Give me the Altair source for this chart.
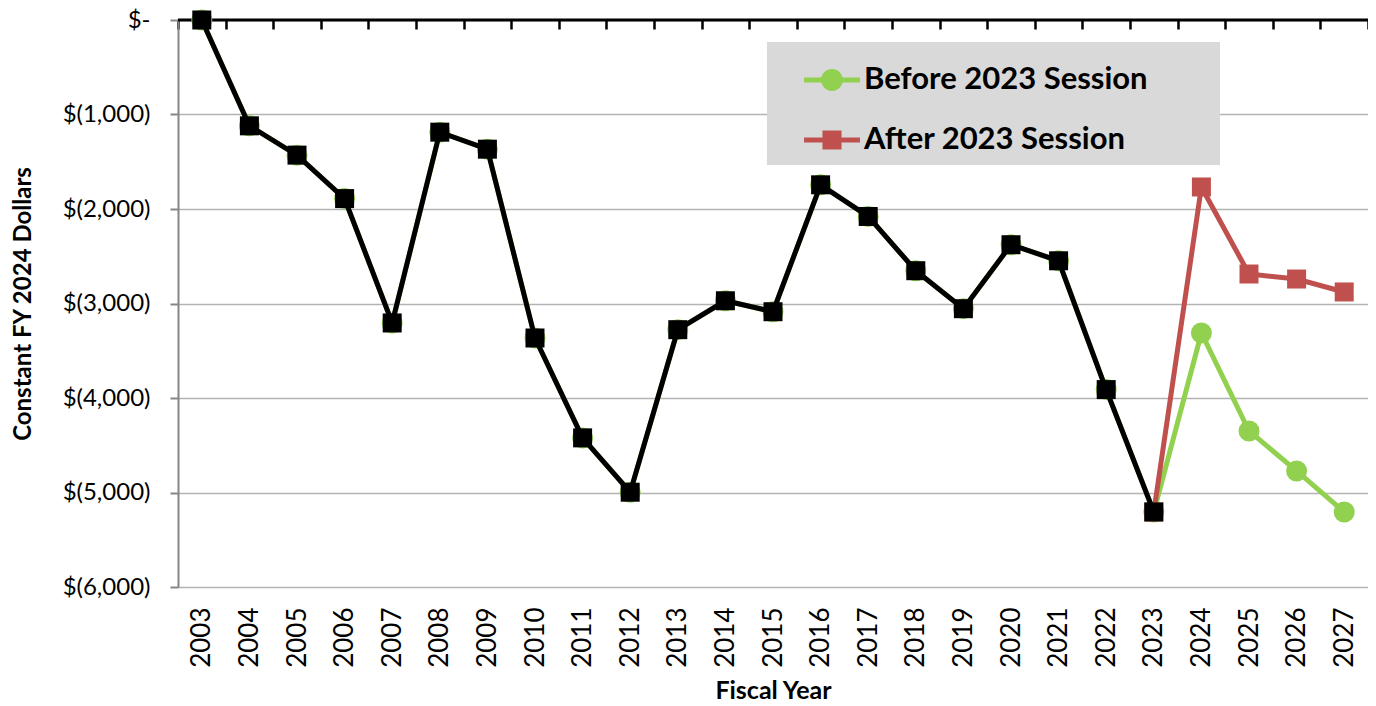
import altair as alt
import pandas as pd

years = list(range(2003, 2028))
hist_years = list(range(2003, 2024))
hist_values = [0, -1120, -1430, -1890, -3206, -1187, -1367, -3365, -4422, -4997,
               -3277, -2971, -3087, -1744, -2079, -2653, -3055, -2378, -2548, -3911, -5206]
before_proj_years = [2024, 2025, 2026, 2027]
before_proj_values = [-3312, -4349, -4772, -5206]
after_years = [2023, 2024, 2025, 2026, 2027]
after_values = [-5206, -1767, -2688, -2741, -2878]
series_names = ["Before 2023 Session", "After 2023 Session"]
series_colors = ["#92d050", "#c0504d"]
y_ticks = [0, -1000, -2000, -3000, -4000, -5000, -6000]
boundaries = [y - 0.5 for y in range(2003, 2029)]

before_df = pd.DataFrame({"year": hist_years + before_proj_years,
                          "value": hist_values + before_proj_values})
after_df = pd.DataFrame({"year": after_years, "value": after_values})
hist_df = pd.DataFrame({"year": hist_years, "value": hist_values})
legend_df = pd.DataFrame({"series": series_names})
bound_df = pd.DataFrame({"b": boundaries})

FONT = "Lato"
xscale = alt.Scale(domain=[2002.5, 2027.5], nice=False, zero=False)
yscale = alt.Scale(domain=[-6000, 0], nice=False)

label_expr = ("datum.value == 0 ? '$-\u00a0' : '$(' + format(abs(datum.value), ',') + ')'")

yaxis = alt.Axis(values=y_ticks, labelExpr=label_expr, labelFont=FONT, labelFontSize=24,
                 labelColor="#000000", labelPadding=20, tickSize=8, tickColor="#868686",
                 tickWidth=2, domainColor="#868686", domainWidth=2, grid=True,
                 gridColor="#b3b3b3", gridWidth=1.5, title="Constant FY 2024 Dollars",
                 titleFont=FONT, titleFontSize=24, titleFontWeight="bold", titleColor="#000000",
                 titleX=-155, titleY=283.5, titleAngle=270, titleAlign="center",
                 titleBaseline="middle")

xaxis_bottom = alt.Axis(values=years, format="d", labelAngle=270, labelFont=FONT,
                        labelFontSize=26, labelColor="#000000", labelPadding=20,
                        labelOverlap=False, labelFlush=False, ticks=False, domain=False,
                        grid=False, title="Fiscal Year", titleFont=FONT, titleFontSize=25,
                        titleFontWeight="bold", titleColor="#000000", titleY=103,
                        titleBaseline="middle")

xaxis_top = alt.Axis(orient="top", values=boundaries, labels=False, domain=False, grid=False,
                     ticks=True, tickColor="#000000", tickWidth=2.5, tickSize=9, offset=-9,
                     title=None)

zero_rule = alt.Chart(pd.DataFrame({"z": [0]})).mark_rule(color="#000000", strokeWidth=3).encode(
    y=alt.Y("z:Q", scale=yscale, axis=yaxis)
)

top_ticks = alt.Chart(bound_df).mark_point(opacity=0).encode(
    x=alt.X("b:Q", scale=xscale, axis=xaxis_top),
    y=alt.datum(0),
)

before_line = alt.Chart(before_df).mark_line(color=series_colors[0], strokeWidth=5).encode(
    x=alt.X("year:Q", scale=xscale, axis=None),
    y=alt.Y("value:Q", scale=yscale),
)
before_pts = alt.Chart(before_df).mark_point(filled=True, shape="circle", size=441,
                                             color=series_colors[0], opacity=1).encode(
    x=alt.X("year:Q", scale=xscale, axis=None),
    y=alt.Y("value:Q", scale=yscale),
)
after_line = alt.Chart(after_df).mark_line(color=series_colors[1], strokeWidth=5).encode(
    x=alt.X("year:Q", scale=xscale, axis=None),
    y=alt.Y("value:Q", scale=yscale),
)
after_pts = alt.Chart(after_df).mark_point(filled=True, shape="square", size=361,
                                           color=series_colors[1], opacity=1).encode(
    x=alt.X("year:Q", scale=xscale, axis=None),
    y=alt.Y("value:Q", scale=yscale),
)
hist_line = alt.Chart(hist_df).mark_line(color="#000000", strokeWidth=5).encode(
    x=alt.X("year:Q", scale=xscale, axis=xaxis_bottom),
    y=alt.Y("value:Q", scale=yscale),
)
hist_pts = alt.Chart(hist_df).mark_point(filled=True, shape="square", size=361,
                                         color="#000000", opacity=1).encode(
    x=alt.X("year:Q", scale=xscale, axis=None),
    y=alt.Y("value:Q", scale=yscale),
)

circle_path = ("M-1,-0.09H1V0.09H-1Z M-0.39,0A0.39,0.39,0,1,1,0.39,0"
               "A0.39,0.39,0,1,1,-0.39,0Z")
square_path = "M-1,-0.09H1V0.09H-1Z M-0.34,-0.34H0.34V0.34H-0.34Z"

legend_layer = alt.Chart(legend_df).mark_point(filled=True, opacity=0).encode(
    color=alt.Color("series:N",
                    scale=alt.Scale(domain=series_names, range=series_colors),
                    legend=alt.Legend(orient="none", legendX=589, legendY=22, title=None,
                                      fillColor="#d9d9d9", padding=10, symbolOffset=27,
                                      symbolSize=3136, symbolStrokeWidth=0, labelOffset=4,
                                      labelFont=FONT, labelFontSize=31, labelFontWeight="bold",
                                      labelColor="#000000", rowPadding=17, labelLimit=700,
                                      labelExpr="datum.label + '\u2800\u2002\u2800'")),
    shape=alt.Shape("series:N",
                    scale=alt.Scale(domain=series_names, range=[circle_path, square_path]),
                    legend=None),
)

chart = alt.layer(
    zero_rule, top_ticks, before_line, before_pts, after_line, after_pts,
    hist_line, hist_pts, legend_layer
).resolve_axis(x="independent").properties(
    width=1190, height=567,
    autosize=alt.AutoSizeParams(type="none"),
    padding={"left": 170, "top": 12, "right": 0, "bottom": 118},
).configure_view(stroke=None)

chart.save("out.html", embed_options={"renderer": "svg", "actions": False})
